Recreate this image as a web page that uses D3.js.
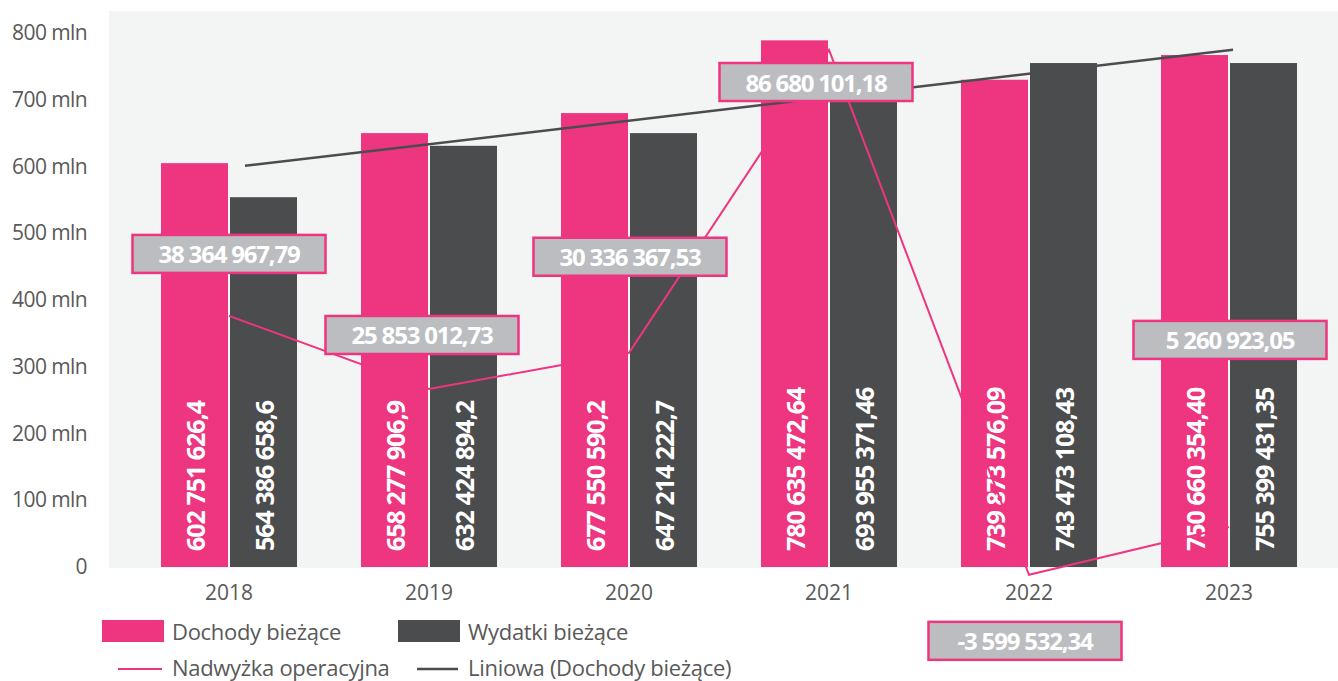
<!DOCTYPE html>
<html>
<head>
<meta charset="utf-8">
<script src="https://cdn.jsdelivr.net/npm/d3@7"></script>
<style>
  body { margin: 0; background: #ffffff; }
  text { font-family: "Open Sans", "Noto Sans", sans-serif; }
</style>
</head>
<body>
<div id="chart"></div>
<script>
// Data
const years = ["2018", "2019", "2020", "2021", "2022", "2023"];
// bar heights as drawn (mln)
const dochody = [605, 650, 680, 789, 730, 767];
const wydatki = [554, 631, 650, 705, 755, 755];
// labels printed inside bars
const dochodyLabels = ["602 751 626,4", "658 277 906,9", "677 550 590,2", "780 635 472,64", "739 873 576,09", "750 660 354,40"];
const wydatkiLabels = ["564 386 658,6", "632 424 894,2", "647 214 222,7", "693 955 371,46", "743 473 108,43", "755 399 431,35"];
// operating surplus, plotted on a hidden secondary axis (mln)
const nadwyzka = [40.5, 28.0, 34.2, 86.0, -3.8, 4.4];
const nadwyzkaLabels = ["38 364 967,79", "25 853 012,73", "30 336 367,53", "86 680 101,18", "-3 599 532,34", "5 260 923,05"];
// linear trend of Dochody: [category index, value]
const trend = [[0.08, 601], [5.02, 775]];
const yTicks = [0, 100, 200, 300, 400, 500, 600, 700, 800];

// layout: label box nudges relative to line points
const labelNudge = [[0, -62], [-7, -54], [1, -96], [-13, 32], [-4, 66], [1, -187]];

const width = 1338, height = 681;
const pink = "#ee3580", dark = "#4b4c4e", boxFill = "#bcbdc1", textGray = "#595959";

const svg = d3.select("#chart").append("svg")
    .attr("width", width)
    .attr("height", height);

// plot background
svg.append("rect")
    .attr("x", 109).attr("y", 11)
    .attr("width", width - 109).attr("height", 557)
    .attr("fill", "#f3f4f4");

const x = d3.scaleBand()
    .domain(years)
    .range([129, 1329])
    .paddingInner(0.32)
    .paddingOuter(0.16);

const xi = d3.scaleLinear()
    .domain([0, years.length - 1])
    .range([x(years[0]) + x.bandwidth() / 2, x(years[years.length - 1]) + x.bandwidth() / 2]);

const y = d3.scaleLinear().domain([0, 800]).range([567, 33]);
const y2 = d3.scaleLinear().domain([-4, 86]).range([576, 50]);

// y axis labels
const yAxis = svg.append("g")
    .attr("transform", "translate(87,0)")
    .call(d3.axisLeft(y).tickValues(yTicks).tickSize(0).tickPadding(0)
        .tickFormat(d => d === 0 ? "0" : d + " mln"));
yAxis.select(".domain").remove();
yAxis.selectAll("text")
    .attr("fill", textGray)
    .style("font-size", "21px")
    .style("letter-spacing", "-0.6px")
    .style("font-family", "'Open Sans', sans-serif");

// x axis labels
const xAxis = svg.append("g")
    .attr("transform", "translate(0,580)")
    .call(d3.axisBottom(x).tickSize(0).tickPadding(0));
xAxis.select(".domain").remove();
xAxis.selectAll("text")
    .attr("fill", textGray)
    .attr("dy", "0.95em")
    .style("font-size", "21px")
    .style("font-family", "'Open Sans', sans-serif");

const barW = 67;

// bars
svg.selectAll(".bar-d")
    .data(years)
    .enter().append("rect")
    .attr("x", (d, i) => x(d))
    .attr("y", (d, i) => y(dochody[i]))
    .attr("width", barW)
    .attr("height", (d, i) => y(0) - y(dochody[i]))
    .attr("fill", pink);

svg.selectAll(".bar-w")
    .data(years)
    .enter().append("rect")
    .attr("x", (d, i) => x(d) + x.bandwidth() - barW)
    .attr("y", (d, i) => y(wydatki[i]))
    .attr("width", barW)
    .attr("height", (d, i) => y(0) - y(wydatki[i]))
    .attr("fill", dark);

// vertical labels inside bars
function barLabel(labels, offset) {
    svg.selectAll(null)
        .data(years)
        .enter().append("text")
        .attr("transform", (d, i) => `translate(${x(d) + offset},551) rotate(-90)`)
        .attr("text-anchor", "start")
        .attr("dominant-baseline", "central")
        .attr("fill", "#ffffff")
        .style("font-weight", "bold")
        .style("font-size", "25px")
        .style("letter-spacing", "-1px")
        .text((d, i) => labels[i]);
}
barLabel(dochodyLabels, barW / 2);
barLabel(wydatkiLabels, x.bandwidth() - barW / 2);

// trend line
svg.append("path")
    .datum(trend)
    .attr("d", d3.line().x(d => xi(d[0])).y(d => y(d[1])))
    .attr("fill", "none")
    .attr("stroke", dark)
    .attr("stroke-width", 2.5);

// operating surplus line
svg.append("path")
    .datum(nadwyzka)
    .attr("d", d3.line().x((d, i) => xi(i)).y(d => y2(d)))
    .attr("fill", "none")
    .attr("stroke", pink)
    .attr("stroke-width", 2);

// surplus value boxes
const boxW = 193, boxH = 38;
const boxes = svg.selectAll(".box")
    .data(nadwyzka)
    .enter().append("g")
    .attr("transform", (d, i) => `translate(${xi(i) + labelNudge[i][0]},${y2(d) + labelNudge[i][1]})`);

boxes.append("rect")
    .attr("x", -boxW / 2)
    .attr("y", -boxH / 2)
    .attr("width", boxW)
    .attr("height", boxH)
    .attr("fill", boxFill)
    .attr("stroke", pink)
    .attr("stroke-width", 2.5);

boxes.append("text")
    .attr("text-anchor", "middle")
    .attr("dominant-baseline", "central")
    .attr("fill", "#ffffff")
    .style("font-weight", "bold")
    .style("font-size", "24px")
    .style("letter-spacing", "-1.2px")
    .text((d, i) => nadwyzkaLabels[i]);

// legend
const legend = svg.append("g");
const legendItems = [
    { label: "Dochody bieżące", color: pink, type: "rect", x: 102, y: 631 },
    { label: "Wydatki bieżące", color: dark, type: "rect", x: 398, y: 631 },
    { label: "Nadwyżka operacyjna", color: pink, type: "line", x: 102, y: 667 },
    { label: "Liniowa (Dochody bieżące)", color: dark, type: "line", x: 398, y: 667 }
];
legendItems.forEach(item => {
    if (item.type === "rect") {
        legend.append("rect")
            .attr("x", item.x).attr("y", item.y - 11)
            .attr("width", 62).attr("height", 22)
            .attr("fill", item.color);
    } else {
        legend.append("line")
            .attr("x1", item.x + 16 + (item.color === dark ? 3 : 0)).attr("x2", item.x + 60)
            .attr("y1", item.y + 2).attr("y2", item.y + 2)
            .attr("stroke", item.color)
            .attr("stroke-width", item.color === dark ? 2.5 : 2);
    }
    legend.append("text")
        .attr("x", item.x + 70)
        .attr("y", item.y)
        .attr("dominant-baseline", "central")
        .attr("fill", textGray)
        .style("font-size", "22px")
        .style("letter-spacing", "-0.3px")
        .text(item.label);
});
</script>
</body>
</html>
